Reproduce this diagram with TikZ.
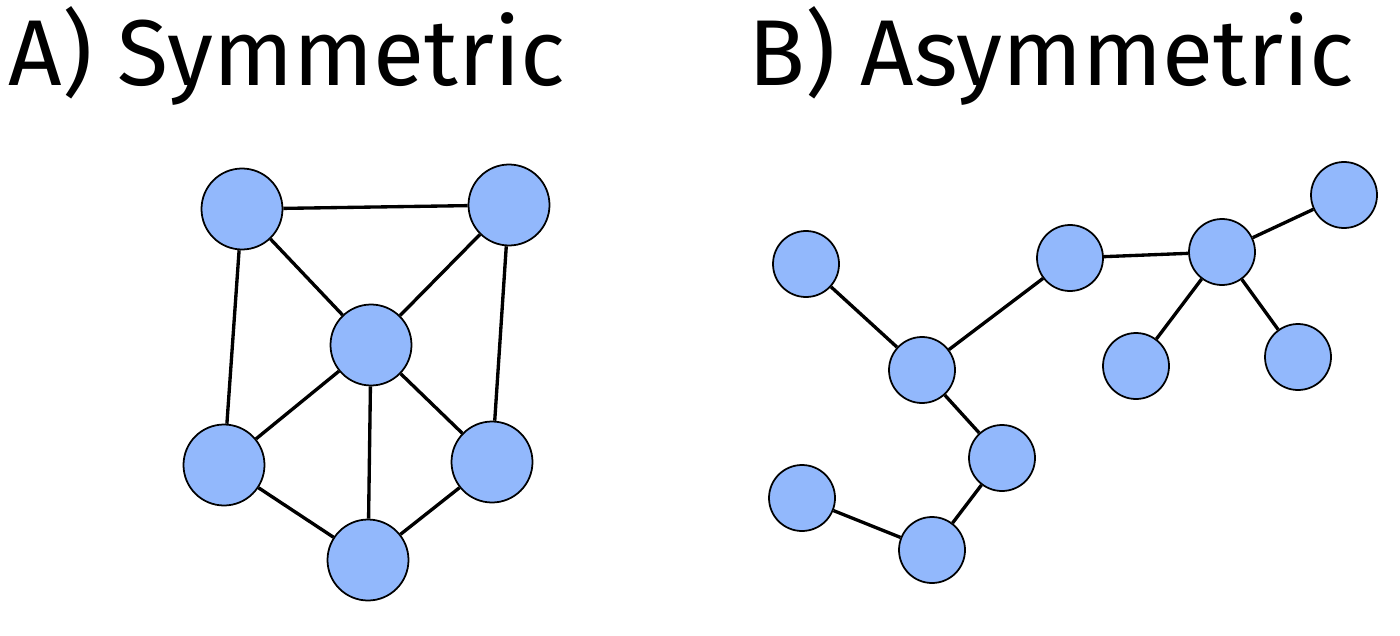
\documentclass[tikz,border=0pt]{standalone}
\usepackage{fontspec}
\setmainfont{Fira Sans}
\usetikzlibrary{positioning}

\definecolor{nodeblue}{RGB}{146,184,252}

\tikzset{
  bignode/.style={circle, draw=black, line width=0.5pt, fill=nodeblue, minimum size=0.81cm, inner sep=0pt},
  smallnode/.style={circle, draw=black, line width=0.5pt, fill=nodeblue, minimum size=0.66cm, inner sep=0pt},
  link/.style={line width=0.95pt},
  heading/.style={anchor=base west, inner sep=0pt, font=\fontsize{26.6}{30}\selectfont}
}

\begin{document}
\begin{tikzpicture}
      \useasboundingbox (0,0) rectangle (14,-6.35);

      % Titles
      \node[heading] (titleA) at (0.08,-0.85) {A) Symmetric};
      \node[heading] (titleB) at (7.48,-0.85) {B) Asymmetric};

      % Symmetric graph
      \node[bignode] (a1) at (2.42,-2.09) {};
      \node[bignode] (a2) at (5.09,-2.05) {};
      \node[bignode] (a3) at (3.71,-3.45) {};
      \node[bignode] (a4) at (2.24,-4.65) {};
      \node[bignode] (a5) at (4.92,-4.62) {};
      \node[bignode] (a6) at (3.68,-5.60) {};

      \foreach \u/\v in {a1/a2, a1/a3, a2/a3, a1/a4, a2/a5, a3/a4, a3/a5, a3/a6, a4/a6, a5/a6} {
        \draw[link] (\u) -- (\v);
      }

      % Asymmetric graph
      \node[smallnode] (b1) at (8.06,-2.64) {};
      \node[smallnode] (b2) at (9.22,-3.70) {};
      \node[smallnode] (b3) at (10.70,-2.58) {};
      \node[smallnode] (b4) at (12.22,-2.52) {};
      \node[smallnode] (b5) at (13.44,-1.95) {};
      \node[smallnode] (b6) at (11.36,-3.66) {};
      \node[smallnode] (b7) at (12.98,-3.57) {};
      \node[smallnode] (b8) at (10.02,-4.58) {};
      \node[smallnode] (b9) at (8.02,-4.98) {};
      \node[smallnode] (b10) at (9.32,-5.50) {};

      \foreach \u/\v in {b1/b2, b2/b3, b3/b4, b4/b5, b4/b6, b4/b7, b2/b8, b8/b10, b10/b9} {
        \draw[link] (\u) -- (\v);
      }
\end{tikzpicture}
\end{document}
